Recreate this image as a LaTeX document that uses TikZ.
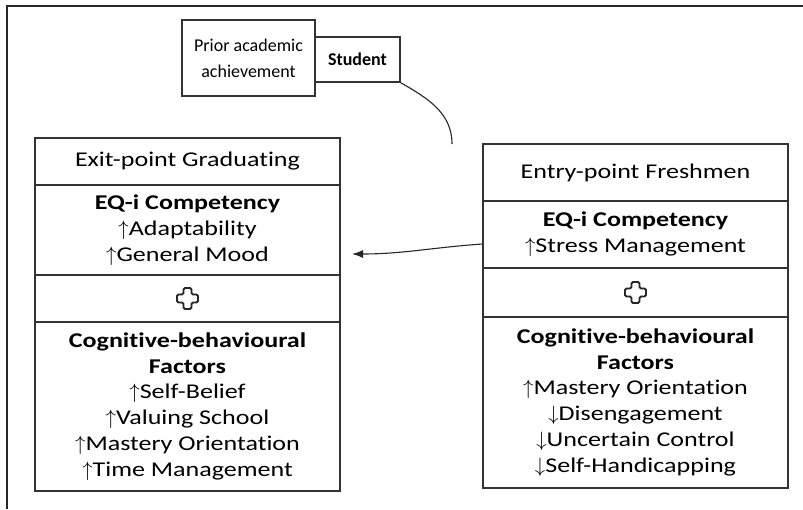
\documentclass[tikz,border=0pt]{standalone}
\usepackage{fontspec}
\setmainfont{Carlito}[FakeStretch=1.24, Ligatures=NoCommon]
\newfontfamily\narrowfont{Carlito}[Ligatures=NoCommon]
\usetikzlibrary{arrows.meta}
\newcommand{\up}{$\uparrow$}
\newcommand{\dn}{$\downarrow$}
\begin{document}
\begin{tikzpicture}[x=1pt,y=-1pt,
  box/.style={draw=black!80, line width=1.3pt, inner sep=0pt, align=center,
     font=\fontsize{21}{25.8}\selectfont},
  topbox/.style={box, font=\narrowfont\fontsize{18}{26}\selectfont},
  lrow/.style={box, minimum width=305pt},
  rrow/.style={box, minimum width=305pt},
  conn/.style={line width=1.1pt, black!85},
  plusmark/.style={draw=black!85, line width=1.8pt, fill=white}
]
\useasboundingbox (0,0) rectangle (803,509);
% outer frame
\draw[line width=2pt, black!85] (7,509) -- (7,6) -- (803,6);
% top boxes
\node[topbox, minimum width=133pt, minimum height=76pt] (prior) at (248.5,58) {Prior academic\\achievement};
\node[topbox, minimum width=85pt, minimum height=45pt, font={\narrowfont\fontsize{18}{26}\selectfont\bfseries}] (student) at (357.5,59.5) {Student};
% left column
\node[lrow, minimum height=47pt] (L1) at (187.5,161.5) {Exit-point Graduating};
\node[lrow, minimum height=90pt] (L2) at (187.5,230) {\textbf{EQ-i Competency}\\\up Adaptability\\\up General Mood};
\node[lrow, minimum height=47pt] (L3) at (187.5,298.5) {};
\node[lrow, minimum height=169pt] (L4) at (187.5,406.5) {\textbf{Cognitive-behavioural}\\\textbf{Factors}\\\up Self-Belief\\\up Valuing School\\\up Mastery Orientation\\\up Time Management};
% right column
\node[rrow, minimum height=57pt] (R1) at (635.5,172.5) {Entry-point Freshmen};
\node[rrow, minimum height=67pt] (R2) at (635.5,234.5) {\textbf{EQ-i Competency}\\\up Stress Management};
\node[rrow, minimum height=49pt] (R3) at (635.5,292.5) {};
\node[rrow, minimum height=171pt] (R4) at (635.5,402.5) {\textbf{Cognitive-behavioural}\\\textbf{Factors}\\\up Mastery Orientation\\\dn Disengagement\\\dn Uncertain Control\\\dn Self-Handicapping};
% plus marks
\foreach \c in {L3,R3}{
  \draw[plusmark, rounded corners=1.5pt] ([shift={(-4,-10.5)}]\c.center) -- ++(8,0) -- ++(0,6.5) -- ++(6.5,0) -- ++(0,8) -- ++(-6.5,0) -- ++(0,6.5) -- ++(-8,0) -- ++(0,-6.5) -- ++(-6.5,0) -- ++(0,-8) -- ++(6.5,0) -- cycle;
}
% connectors
\coordinate (arrtip) at (352,254);
\coordinate (entrytop) at (452,144);
\draw[conn] (student.south east) to[out=-30,in=90] (entrytop);
\draw[conn, -{Latex[length=11pt,width=8pt]}] (R2.west |- 0,244) to[out=184,in=0] (arrtip);
\end{tikzpicture}
\end{document}
